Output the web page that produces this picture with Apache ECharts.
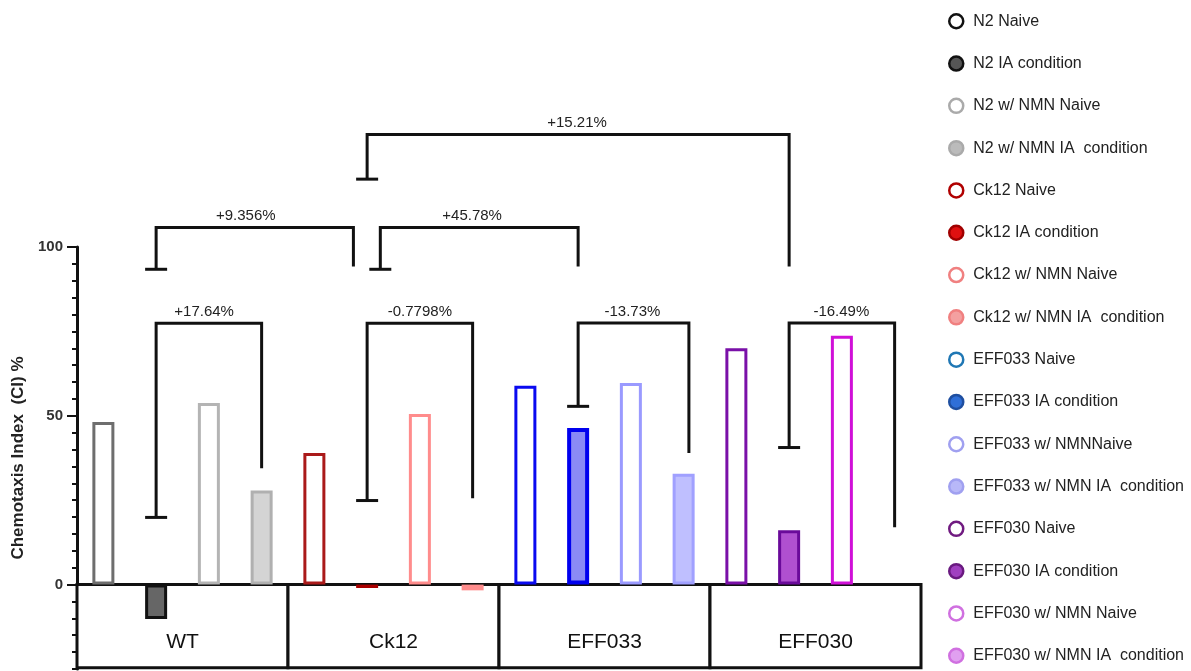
<!DOCTYPE html>
<html>
<head>
<meta charset="utf-8">
<title>Chemotaxis Index</title>
<script src="https://cdn.jsdelivr.net/npm/echarts@6/dist/echarts.min.js"></script>
<style>
  html, body { margin: 0; padding: 0; background: #fff; }
  #main { width: 1191px; height: 671px; }
</style>
</head>
<body>
<div id="main"></div>
<script>
// series (one bar each)
const seriesNames = [
  'N2 Naive', 'N2 IA condition', 'N2 w/ NMN Naive', 'N2 w/ NMN IA  condition',
  'Ck12 Naive', 'Ck12 IA condition', 'Ck12 w/ NMN Naive', 'Ck12 w/ NMN IA  condition',
  'EFF033 Naive', 'EFF033 IA condition', 'EFF033 w/ NMNNaive', 'EFF033 w/ NMN IA  condition',
  'EFF030 Naive', 'EFF030 IA condition', 'EFF030 w/ NMN Naive', 'EFF030 w/ NMN IA  condition'
]
const values = [
  48.2, -10.2, 53.8, 27.9,
  39.0, -1.0, 50.5, -1.7,
  58.9, 46.4, 59.7, 32.8,
  70.0, 16.1, 73.7, null
]
const barFill = [
  '#ffffff', '#666666', '#ffffff', '#d4d4d4',
  '#ffffff', '#cc0000', '#ffffff', '#ffb3b3',
  '#ffffff', '#8a8af5', '#ffffff', '#bfbfff',
  '#ffffff', '#b050d0', '#ffffff', '#ecb0f4'
]
const barBorder = [
  '#6e6e6e', '#111111', '#b4b4b4', '#b0b0b0',
  '#aa1a1a', '#aa0000', '#ff8c8c', '#ff8c8c',
  '#0a0af0', '#0000ee', '#9a9aff', '#a0a0ff',
  '#7a10a8', '#6a0a9a', '#d010d8', '#d070e0'
]
const barBorderWidth = [3, 3, 3, 3, 3, 3, 3, 3, 3, 4, 3, 3, 3, 3, 3, 3]

// legend icons use their own colours
const legendFill = [
  '#ffffff', '#555555', '#ffffff', '#bbbbbb',
  '#ffffff', '#e01010', '#ffffff', '#f4a0a0',
  '#ffffff', '#2f6fd8', '#ffffff', '#b8b8f8',
  '#ffffff', '#a040c0', '#ffffff', '#e0a0f0'
]
const legendBorder = [
  '#111111', '#111111', '#aaaaaa', '#aaaaaa',
  '#b00000', '#a00000', '#f08080', '#f08080',
  '#1f77b4', '#1f4fa0', '#a0a0f0', '#a0a0f0',
  '#701a80', '#6a1a80', '#d070e0', '#d070e0'
]

// groups under the zero line
const groupNames = ['WT', 'Ck12', 'EFF033', 'EFF030']
const groupStart = [0, 4, 8, 12]
const groupEnd = [4, 8, 12, 16]

// comparison brackets (x in bar slots, y in CI %)
const bracketLabels = ['+17.64%', '+9.356%', '-0.7798%', '+45.78%', '-13.73%', '+15.21%', '-16.49%']
const bracketLabelX = [2.41, 3.2, 6.5, 7.49, 10.53, 9.48, 14.49]
const bracketLeft = [1.5, 1.5, 5.5, 5.75, 9.5, 5.5, 13.5]
const bracketRight = [3.5, 5.24, 7.5, 9.5, 11.6, 13.5, 15.5]
const bracketTop = [77.4, 105.8, 77.4, 105.8, 77.5, 133.3, 77.5]
const bracketLeftFoot = [19.9, 93.4, 24.9, 93.4, 52.8, 120.1, 40.6]
const bracketRightFoot = [34.5, 94.2, 25.6, 94.2, 39.0, 94.2, 17.0]

// y axis
const yMin = -25
const yMax = 100
const yLabels = [0, 50, 100]

const FONT = 'Liberation Sans, Arial, sans-serif'

const chart = echarts.init(document.getElementById('main'))

const barSeries = seriesNames.map((name, i) => {
  return {
    name: name,
    type: 'bar',
    xAxisIndex: 0,
    yAxisIndex: 0,
    barWidth: 22,
    barGap: '-100%',
    z: 3,
    data: values.map((v, j) => (j === i ? v : null)),
    itemStyle: {
      color: barFill[i],
      borderColor: barBorder[i],
      borderWidth: barBorderWidth[i]
    }
  }
})

const groupData = groupNames.map((g, i) => [groupStart[i], groupEnd[i]])
const bracketData = bracketLabels.map((b, i) => [
  bracketLeft[i], bracketRight[i], bracketTop[i], bracketLeftFoot[i], bracketRightFoot[i], bracketLabelX[i]
])

const option = {
  animation: false,
  backgroundColor: '#ffffff',
  grid: {
    left: 77,
    right: 270,
    top: 247,
    bottom: 2
  },
  legend: {
    orient: 'vertical',
    left: 948,
    top: 13,
    padding: 0,
    icon: 'circle',
    itemWidth: 14,
    itemHeight: 14,
    itemGap: 25.8,
    textStyle: {
      fontFamily: FONT,
      fontSize: 16,
      color: '#222',
      padding: [0, 0, 0, 5]
    },
    data: seriesNames.map((name, i) => ({
      name: name,
      itemStyle: {
        color: legendFill[i],
        borderColor: legendBorder[i],
        borderWidth: 2.5
      }
    }))
  },
  xAxis: [
    {
      type: 'category',
      data: seriesNames,
      show: false
    },
    {
      type: 'value',
      min: 0,
      max: 16,
      show: false
    }
  ],
  yAxis: [
    {
      type: 'value',
      min: yMin,
      max: yMax,
      interval: 5,
      name: 'Chemotaxis Index  (CI) %',
      nameLocation: 'middle',
      nameGap: 50,
      nameTextStyle: {
        fontFamily: FONT,
        fontSize: 17,
        fontWeight: 'bold',
        color: '#222'
      },
      axisLine: {
        show: true,
        lineStyle: { color: '#111', width: 3 }
      },
      axisTick: {
        show: true,
        length: 5,
        lineStyle: { color: '#111', width: 2 }
      },
      axisLabel: {
        customValues: yLabels,
        margin: 14,
        fontFamily: FONT,
        fontSize: 15,
        fontWeight: 'bold',
        color: '#333'
      },
      splitLine: { show: false }
    },
    {
      type: 'value',
      min: yMin,
      max: yMax,
      interval: 5,
      position: 'left',
      axisLine: { show: false },
      axisTick: {
        show: true,
        customValues: yLabels,
        length: 10,
        lineStyle: { color: '#111', width: 2 }
      },
      axisLabel: { show: false },
      splitLine: { show: false }
    }
  ],
  series: barSeries.concat([
    {
      name: 'groups',
      type: 'custom',
      xAxisIndex: 1,
      yAxisIndex: 0,
      z: 1,
      clip: false,
      encode: { x: [0, 1] },
      data: groupData,
      renderItem: function (params, api) {
        const i = params.dataIndex
        const p1 = api.coord([api.value(0), 0])
        const p2 = api.coord([api.value(1), yMin + 0.4])
        const mid = api.coord([(api.value(0) + api.value(1)) / 2, -17])
        return {
          type: 'group',
          children: [
            {
              type: 'rect',
              shape: { x: p1[0], y: p1[1], width: p2[0] - p1[0], height: p2[1] - p1[1] },
              style: { fill: '#fff', stroke: '#111', lineWidth: 3 }
            },
            {
              type: 'text',
              x: mid[0],
              y: mid[1],
              style: {
                text: groupNames[i],
                fill: '#111',
                font: '21px ' + FONT,
                align: 'center',
                verticalAlign: 'middle'
              }
            }
          ]
        }
      }
    },
    {
      name: 'brackets',
      type: 'custom',
      xAxisIndex: 1,
      yAxisIndex: 0,
      z: 4,
      clip: false,
      encode: { x: [0, 1] },
      data: bracketData,
      renderItem: function (params, api) {
        const i = params.dataIndex
        const pL = api.coord([api.value(0), api.value(3)])
        const pLT = api.coord([api.value(0), api.value(2)])
        const pRT = api.coord([api.value(1), api.value(2)])
        const pR = api.coord([api.value(1), api.value(4)])
        const pText = api.coord([api.value(5), api.value(2)])
        return {
          type: 'group',
          children: [
            {
              type: 'polyline',
              shape: { points: [pL, pLT, pRT, pR] },
              style: { stroke: '#111', lineWidth: 3, fill: null }
            },
            {
              // cap on the left foot
              type: 'line',
              shape: { x1: pL[0] - 11, y1: pL[1], x2: pL[0] + 11, y2: pL[1] },
              style: { stroke: '#111', lineWidth: 3 }
            },
            {
              type: 'text',
              x: pText[0],
              y: pText[1] - 4,
              style: {
                text: bracketLabels[i],
                fill: '#222',
                font: '15px ' + FONT,
                align: 'center',
                verticalAlign: 'bottom'
              }
            }
          ]
        }
      }
    }
  ])
}

chart.setOption(option)
</script>
</body>
</html>
